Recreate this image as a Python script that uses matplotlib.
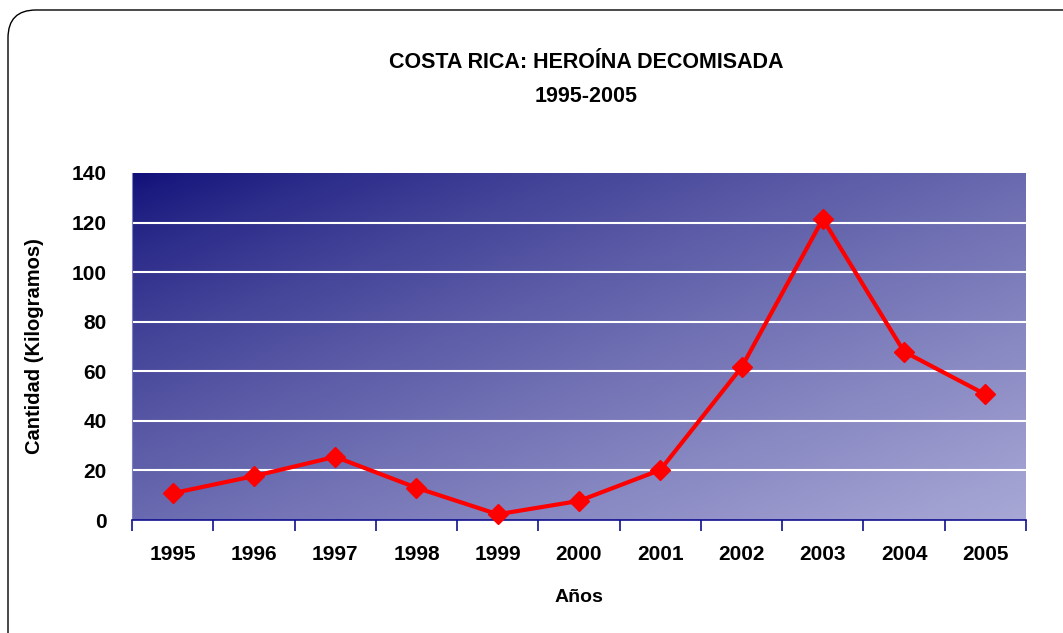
import matplotlib
matplotlib.use("Agg")
import matplotlib.pyplot as plt
import numpy as np
from matplotlib.patches import FancyBboxPatch
from matplotlib.transforms import IdentityTransform

years = ["1995", "1996", "1997", "1998", "1999", "2000", "2001", "2002", "2003", "2004", "2005"]
values = [10.8, 17.7, 25.5, 13.0, 2.3, 7.7, 20.2, 61.6, 121.4, 67.9, 50.7]
yticks = [0, 20, 40, 60, 80, 100, 120, 140]

plt.rcParams['font.family'] = ['Liberation Sans', 'DejaVu Sans']
plt.rcParams['font.weight'] = 'bold'

W, H = 1063, 633
fig = plt.figure(figsize=(W/100, H/100), dpi=100)
ax = fig.add_axes([132/W, 1-520/H, (1026-132)/W, (520-173)/H])

# rounded frame (pixel coordinates)
frame = FancyBboxPatch((8, -50), 1200, H - 10 + 50, boxstyle="round,pad=0,rounding_size=28",
                       transform=IdentityTransform(), fill=False, edgecolor='black', lw=1.0)
fig.patches.append(frame)

n = len(years)
x = np.arange(n)

# gradient background
gx = np.linspace(0, 1, 300)
gy = np.linspace(0, 1, 200)
GX, GY = np.meshgrid(gx, gy)
t = np.clip((GX + GY) / 2.0, 0, 1) ** 0.75
c0 = np.array([14, 14, 120]) / 255.0
c1 = np.array([168, 168, 214]) / 255.0
img = c0[None, None, :] * (1 - t[..., None]) + c1[None, None, :] * t[..., None]
ax.imshow(img, extent=[-0.5, n - 0.5, 0, 140], origin='upper', aspect='auto', zorder=0)

for yv in yticks[1:-1]:
    ax.axhline(yv, color='white', lw=1.5, zorder=1)

ax.plot(x, values, color='#ff0000', lw=3, marker='D', markersize=10, zorder=3, clip_on=False)

ax.set_xlim(-0.5, n - 0.5)
ax.set_ylim(0, 140)
ax.set_yticks(yticks)
ax.set_yticklabels([str(v) for v in yticks], fontsize=15, fontweight='bold')
ax.set_xticks(np.arange(-0.5, n, 1.0))
ax.set_xticklabels([])
ax.set_xticks(x, minor=True)
ax.set_xticklabels(years, minor=True, fontsize=15, fontweight='bold')
ax.tick_params(axis='x', which='major', length=8, color='#101090', width=1.2, direction='out')
ax.tick_params(axis='x', which='minor', length=0, pad=18)
ax.tick_params(axis='y', length=0, pad=18)

for s in ['top', 'right']:
    ax.spines[s].set_visible(False)
ax.spines['left'].set_color('#8080c0')
ax.spines['bottom'].set_color('#101090')
ax.spines['bottom'].set_linewidth(1.2)

ax.set_xlabel("Años", fontsize=14, fontweight='bold', labelpad=18)
ax.set_ylabel("Cantidad (Kilogramos)", fontsize=14.5, fontweight='bold', labelpad=20)

fig.text(586/W, 1 - 62/H, "COSTA RICA: HEROÍNA DECOMISADA", ha='center', va='center', fontsize=15.5, fontweight='bold')
fig.text(586/W, 1 - 97/H, "1995-2005", ha='center', va='center', fontsize=15.5, fontweight='bold')

fig.savefig("out.png", dpi=100, facecolor='white')
